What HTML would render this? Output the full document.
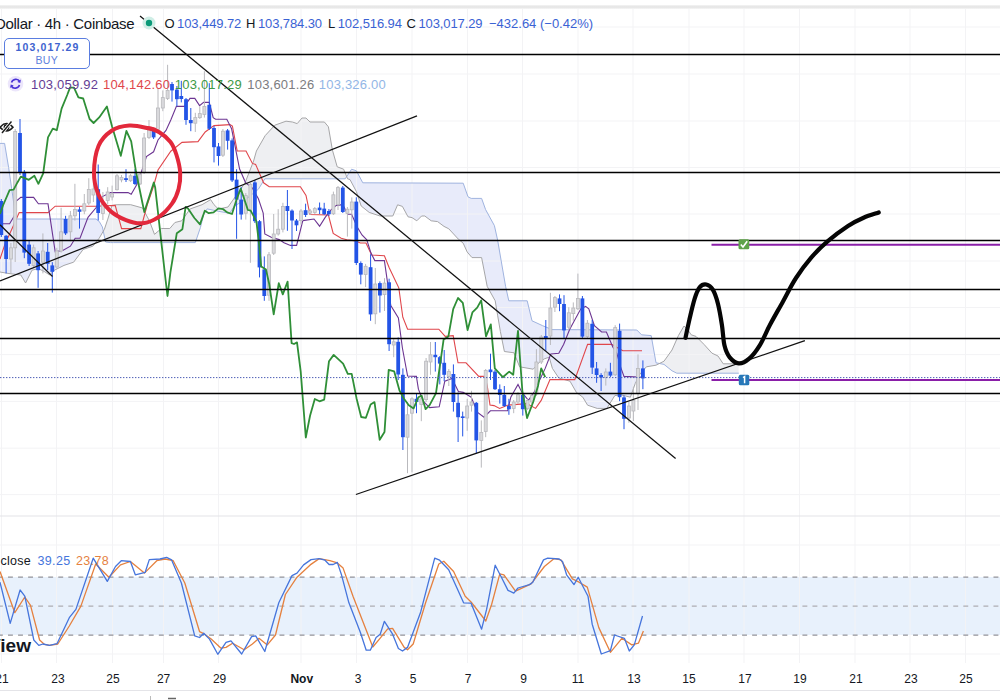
<!DOCTYPE html>
<html><head><meta charset="utf-8">
<style>
html,body{margin:0;padding:0;background:#fff;}
body{width:1000px;height:700px;overflow:hidden;position:relative;font-family:"Liberation Sans",sans-serif;}
svg{position:absolute;left:0;top:0;}
.t{position:absolute;white-space:nowrap;line-height:1;}
.topbar{position:absolute;left:0;top:4.5px;width:1000px;height:4.5px;background:linear-gradient(#f4f4f4,#e3e3e3 50%,#f6f6f6);}
</style></head><body>
<div class="topbar"></div>
<svg width="1000" height="700" viewBox="0 0 1000 700">
<defs>
<clipPath id="cBelowA"><path d="M0.0,143.4 L4.6,143.4 L8.6,167.4 L12.6,195.0 L16.0,219.0 L96.0,219.0 L99.2,221.4 L102.4,227.0 L105.6,242.0 L110.4,242.6 L113.6,242.6 L195.3,242.6 L200.4,227.6 L203.8,214.0 L207.2,208.9 L220.0,211.6 L229.6,213.2 L234.4,206.0 L245.0,200.0 L258.4,189.2 L264.8,178.8 L345.2,178.8 L351.6,169.2 L356.4,170.8 L362.8,182.8 L463.2,183.2 L468.0,196.8 L471.2,198.4 L481.6,198.4 L485.6,209.6 L494.4,225.6 L497.6,240.0 L505.6,286.4 L508.8,300.8 L527.2,300.8 L532.0,320.8 L542.4,325.6 L552.0,329.6 L636.8,330.0 L641.6,334.8 L651.2,335.6 L656.0,362.8 L664.0,364.4 L672.0,370.8 L676.8,373.2 L738.8,373.2 L738.8,600 L0,600 Z"/></clipPath>
<clipPath id="cBelowB"><path d="M0.0,272.0 L8.0,273.4 L20.8,275.0 L25.6,283.0 L32.0,270.2 L38.4,268.6 L44.8,271.8 L49.6,275.0 L54.4,270.2 L64.0,265.4 L73.6,262.2 L83.2,249.4 L92.8,246.2 L99.2,238.2 L104.4,229.3 L107.8,219.1 L112.0,205.5 L117.1,204.7 L130.7,204.7 L142.6,208.0 L149.4,220.8 L154.5,234.4 L161.3,228.5 L169.8,228.5 L174.9,222.5 L181.7,220.8 L190.2,208.9 L202.1,204.7 L210.6,199.6 L214.0,204.7 L218.4,209.0 L228.0,207.0 L245.0,183.0 L253.6,161.0 L256.4,151.0 L265.2,135.6 L274.8,125.2 L286.0,121.2 L292.4,122.0 L297.2,123.6 L302.0,118.0 L306.0,118.0 L310.0,122.0 L324.4,122.0 L328.4,126.8 L332.4,150.0 L337.2,166.8 L343.6,169.2 L347.6,178.8 L350.0,179.6 L356.4,191.6 L361.2,206.0 L369.2,212.4 L380.0,216.0 L392.8,216.0 L397.6,204.8 L402.4,206.4 L408.0,216.8 L412.0,217.6 L416.8,220.8 L421.6,216.0 L424.8,216.0 L431.2,220.8 L437.6,221.6 L444.0,226.4 L448.8,228.8 L458.4,239.2 L463.2,243.2 L467.2,252.0 L472.0,257.6 L481.6,257.6 L487.2,286.4 L495.2,300.8 L497.6,315.2 L500.4,331.6 L504.4,351.5 L514.0,352.8 L519.6,366.8 L533.2,369.2 L539.6,362.0 L544.4,358.8 L549.2,357.2 L552.4,368.4 L558.8,378.0 L570.0,381.2 L576.4,392.4 L582.8,397.2 L587.6,405.2 L597.2,408.4 L606.8,408.4 L614.8,395.6 L620.8,394.8 L630.4,397.2 L635.2,383.6 L640.0,374.0 L646.4,366.8 L656.0,365.2 L664.0,361.2 L672.0,350.0 L678.4,335.6 L684.0,326.0 L688.0,330.0 L691.2,334.8 L696.0,336.4 L704.0,344.4 L712.0,353.2 L718.0,356.0 L723.2,363.8 L738.8,363.8 L738.8,600 L0,600 Z"/></clipPath>
</defs>
<path d="M0.0,272.0 L8.0,273.4 L20.8,275.0 L25.6,283.0 L32.0,270.2 L38.4,268.6 L44.8,271.8 L49.6,275.0 L54.4,270.2 L64.0,265.4 L73.6,262.2 L83.2,249.4 L92.8,246.2 L99.2,238.2 L104.4,229.3 L107.8,219.1 L112.0,205.5 L117.1,204.7 L130.7,204.7 L142.6,208.0 L149.4,220.8 L154.5,234.4 L161.3,228.5 L169.8,228.5 L174.9,222.5 L181.7,220.8 L190.2,208.9 L202.1,204.7 L210.6,199.6 L214.0,204.7 L218.4,209.0 L228.0,207.0 L245.0,183.0 L253.6,161.0 L256.4,151.0 L265.2,135.6 L274.8,125.2 L286.0,121.2 L292.4,122.0 L297.2,123.6 L302.0,118.0 L306.0,118.0 L310.0,122.0 L324.4,122.0 L328.4,126.8 L332.4,150.0 L337.2,166.8 L343.6,169.2 L347.6,178.8 L350.0,179.6 L356.4,191.6 L361.2,206.0 L369.2,212.4 L380.0,216.0 L392.8,216.0 L397.6,204.8 L402.4,206.4 L408.0,216.8 L412.0,217.6 L416.8,220.8 L421.6,216.0 L424.8,216.0 L431.2,220.8 L437.6,221.6 L444.0,226.4 L448.8,228.8 L458.4,239.2 L463.2,243.2 L467.2,252.0 L472.0,257.6 L481.6,257.6 L487.2,286.4 L495.2,300.8 L497.6,315.2 L500.4,331.6 L504.4,351.5 L514.0,352.8 L519.6,366.8 L533.2,369.2 L539.6,362.0 L544.4,358.8 L549.2,357.2 L552.4,368.4 L558.8,378.0 L570.0,381.2 L576.4,392.4 L582.8,397.2 L587.6,405.2 L597.2,408.4 L606.8,408.4 L614.8,395.6 L620.8,394.8 L630.4,397.2 L635.2,383.6 L640.0,374.0 L646.4,366.8 L656.0,365.2 L664.0,361.2 L672.0,350.0 L678.4,335.6 L684.0,326.0 L688.0,330.0 L691.2,334.8 L696.0,336.4 L704.0,344.4 L712.0,353.2 L718.0,356.0 L723.2,363.8 L738.8,363.8 L738.8,0 L0,0 Z" fill="#e8ebfa" clip-path="url(#cBelowA)"/>
<path d="M0.0,143.4 L4.6,143.4 L8.6,167.4 L12.6,195.0 L16.0,219.0 L96.0,219.0 L99.2,221.4 L102.4,227.0 L105.6,242.0 L110.4,242.6 L113.6,242.6 L195.3,242.6 L200.4,227.6 L203.8,214.0 L207.2,208.9 L220.0,211.6 L229.6,213.2 L234.4,206.0 L245.0,200.0 L258.4,189.2 L264.8,178.8 L345.2,178.8 L351.6,169.2 L356.4,170.8 L362.8,182.8 L463.2,183.2 L468.0,196.8 L471.2,198.4 L481.6,198.4 L485.6,209.6 L494.4,225.6 L497.6,240.0 L505.6,286.4 L508.8,300.8 L527.2,300.8 L532.0,320.8 L542.4,325.6 L552.0,329.6 L636.8,330.0 L641.6,334.8 L651.2,335.6 L656.0,362.8 L664.0,364.4 L672.0,370.8 L676.8,373.2 L738.8,373.2 L738.8,0 L0,0 Z" fill="#eeeff2" clip-path="url(#cBelowB)"/>
<rect x="0" y="577" width="1000" height="58" fill="#e8f1fc"/>
<path d="M1.5 9V663 M56.5 9V663 M112.5 9V663 M163.5 9V663 M218.5 9V663 M301.0 9V663 M356.5 9V663 M412.0 9V663 M467.5 9V663 M522.5 9V663 M578.0 9V663 M633.0 9V663 M689.0 9V663 M744.0 9V663 M799.5 9V663 M855.0 9V663 M910.0 9V663 M965.5 9V663 M0 27.0H1000 M0 74.0H1000 M0 121.0H1000 M0 167.5H1000 M0 214.0H1000 M0 261.0H1000 M0 307.5H1000 M0 354.6H1000 M0 401.4H1000 M0 448.2H1000 M0 494.6H1000 M0 545.0H1000 M0 654.0H1000" stroke="#f3f3f5" stroke-width="1" fill="none"/>
<path d="M0 516H1000" stroke="#e4e4e8" stroke-width="1.2" fill="none"/>
<path d="M0 690.5H1000" stroke="#e4e4e8" stroke-width="1" fill="none"/>
<path d="M0.0,143.4 L4.6,143.4 L8.6,167.4 L12.6,195.0 L16.0,219.0 L96.0,219.0 L99.2,221.4 L102.4,227.0 L105.6,242.0 L110.4,242.6 L113.6,242.6 L195.3,242.6 L200.4,227.6 L203.8,214.0 L207.2,208.9 L220.0,211.6 L229.6,213.2 L234.4,206.0 L245.0,200.0 L258.4,189.2 L264.8,178.8 L345.2,178.8 L351.6,169.2 L356.4,170.8 L362.8,182.8 L463.2,183.2 L468.0,196.8 L471.2,198.4 L481.6,198.4 L485.6,209.6 L494.4,225.6 L497.6,240.0 L505.6,286.4 L508.8,300.8 L527.2,300.8 L532.0,320.8 L542.4,325.6 L552.0,329.6 L636.8,330.0 L641.6,334.8 L651.2,335.6 L656.0,362.8 L664.0,364.4 L672.0,370.8 L676.8,373.2 L738.8,373.2" stroke="#9fb3df" stroke-width="1" fill="none"/>
<path d="M0.0,272.0 L8.0,273.4 L20.8,275.0 L25.6,283.0 L32.0,270.2 L38.4,268.6 L44.8,271.8 L49.6,275.0 L54.4,270.2 L64.0,265.4 L73.6,262.2 L83.2,249.4 L92.8,246.2 L99.2,238.2 L104.4,229.3 L107.8,219.1 L112.0,205.5 L117.1,204.7 L130.7,204.7 L142.6,208.0 L149.4,220.8 L154.5,234.4 L161.3,228.5 L169.8,228.5 L174.9,222.5 L181.7,220.8 L190.2,208.9 L202.1,204.7 L210.6,199.6 L214.0,204.7 L218.4,209.0 L228.0,207.0 L245.0,183.0 L253.6,161.0 L256.4,151.0 L265.2,135.6 L274.8,125.2 L286.0,121.2 L292.4,122.0 L297.2,123.6 L302.0,118.0 L306.0,118.0 L310.0,122.0 L324.4,122.0 L328.4,126.8 L332.4,150.0 L337.2,166.8 L343.6,169.2 L347.6,178.8 L350.0,179.6 L356.4,191.6 L361.2,206.0 L369.2,212.4 L380.0,216.0 L392.8,216.0 L397.6,204.8 L402.4,206.4 L408.0,216.8 L412.0,217.6 L416.8,220.8 L421.6,216.0 L424.8,216.0 L431.2,220.8 L437.6,221.6 L444.0,226.4 L448.8,228.8 L458.4,239.2 L463.2,243.2 L467.2,252.0 L472.0,257.6 L481.6,257.6 L487.2,286.4 L495.2,300.8 L497.6,315.2 L500.4,331.6 L504.4,351.5 L514.0,352.8 L519.6,366.8 L533.2,369.2 L539.6,362.0 L544.4,358.8 L549.2,357.2 L552.4,368.4 L558.8,378.0 L570.0,381.2 L576.4,392.4 L582.8,397.2 L587.6,405.2 L597.2,408.4 L606.8,408.4 L614.8,395.6 L620.8,394.8 L630.4,397.2 L635.2,383.6 L640.0,374.0 L646.4,366.8 L656.0,365.2 L664.0,361.2 L672.0,350.0 L678.4,335.6 L684.0,326.0 L688.0,330.0 L691.2,334.8 L696.0,336.4 L704.0,344.4 L712.0,353.2 L718.0,356.0 L723.2,363.8 L738.8,363.8" stroke="#a6a6a8" stroke-width="1" fill="none"/>
<polyline points="0.0,259.0 4.8,244.6 12.8,227.0 19.2,212.6 48.0,212.6 55.2,206.2 96.0,206.2 115.2,205.4 121.6,228.6 140.8,228.6 147.2,205.0 153.6,186.0 158.0,170.0 170.8,151.2 182.0,142.4 198.0,141.6 205.2,132.0 214.0,125.6 230.0,124.6 232.4,126.0 237.2,151.0 246.0,151.0 252.4,163.4 255.6,164.4 263.6,182.8 269.2,186.8 300.4,186.8 306.0,195.4 310.0,214.5 328.4,215.0 333.2,233.4 341.2,238.2 346.8,239.8 354.0,240.6 360.4,243.0 366.0,243.0 371.6,255.0 384.4,255.8 389.2,267.8 398.8,287.8 402.8,317.2 407.6,329.2 438.8,329.2 445.2,336.4 453.2,335.6 458.0,362.8 466.0,362.8 478.8,376.4 485.0,376.4 487.3,386.0 490.0,405.0 494.0,405.6 499.6,408.4 507.6,405.2 517.2,404.4 526.8,403.6 535.6,408.4 541.2,400.4 550.0,379.6 574.8,379.6 587.6,344.4 611.6,344.4 622.8,350.8 642.0,350.8" stroke="#e0464b" stroke-width="1.1" fill="none"/>
<polyline points="0.0,223.8 9.6,223.8 14.4,215.8 16.0,201.4 20.8,197.4 33.6,197.4 38.4,203.8 48.0,203.8 55.2,251.8 63.2,250.2 70.4,246.2 75.2,238.2 80.0,238.2 88.0,217.4 96.0,207.8 102.4,196.6 110.4,192.6 128.0,192.6 131.2,194.2 136.8,184.6 144.8,162.2 146.4,156.6 153.6,151.8 158.0,140.0 166.0,130.4 170.8,120.0 176.4,106.4 184.4,106.4 190.0,98.4 194.8,98.4 199.6,105.6 203.6,102.4 209.2,102.4 213.2,117.6 215.6,119.2 226.8,119.2 231.6,128.8 239.6,169.0 245.6,182.8 252.0,187.6 258.4,198.8 263.2,213.2 264.8,234.0 271.2,237.2 279.2,239.6 284.0,242.8 290.4,245.4 296.6,245.4 302.8,220.6 314.0,219.0 319.6,226.2 325.2,217.4 330.8,210.2 336.4,205.4 342.8,204.6 347.6,214.2 351.6,214.2 357.2,227.0 362.0,235.0 366.8,239.8 370.8,252.6 374.8,260.6 384.4,260.6 390.8,305.6 398.4,318.0 402.4,348.0 407.6,376.0 416.4,376.4 418.4,389.2 423.2,401.2 429.6,407.6 439.2,406.8 444.8,381.2 452.0,378.4 458.4,391.6 463.2,392.4 471.2,397.2 477.6,412.4 484.0,417.2 490.4,410.8 507.6,410.8 510.8,397.2 518.0,384.4 522.0,392.4 528.4,400.4 534.0,392.4 538.0,383.6 545.2,368.4 550.8,354.0 558.8,353.2 563.6,344.4 569.6,329.6 580.8,308.8 585.6,306.4 588.8,308.8 594.4,325.6 601.6,332.0 606.4,332.0 612.8,347.0 616.8,353.2 620.8,367.6 624.0,376.4 643.6,377.2" stroke="#6c3592" stroke-width="1.1" fill="none"/>
<path d="M1.3 199.0V237.0" stroke="#2354e6" stroke-width="1" />
<rect x="-0.60" y="201.0" width="3.8" height="34.0" fill="#2354e6"/>
<path d="M6.1 235.0V273.4" stroke="#2354e6" stroke-width="1" />
<rect x="4.20" y="235.8" width="3.8" height="23.2" fill="#2354e6"/>
<path d="M10.9 243.0V273.4" stroke="#b9b9bd" stroke-width="1" />
<rect x="9.40" y="247.8" width="3.00" height="11.2" fill="#d9d9dc" stroke="#b9b9bd" stroke-width="0.8"/>
<path d="M15.2 129.0V262.0" stroke="#b9b9bd" stroke-width="1" />
<rect x="13.70" y="131.4" width="3.00" height="116.4" fill="#d9d9dc" stroke="#b9b9bd" stroke-width="0.8"/>
<path d="M20.0 119.0V175.0" stroke="#2354e6" stroke-width="1" />
<rect x="18.10" y="133.0" width="3.8" height="39.6" fill="#2354e6"/>
<path d="M24.3 170.0V258.2" stroke="#2354e6" stroke-width="1" />
<rect x="22.40" y="171.8" width="3.8" height="80.8" fill="#2354e6"/>
<path d="M29.1 240.0V266.0" stroke="#2354e6" stroke-width="1" />
<rect x="27.20" y="244.6" width="3.8" height="19.2" fill="#2354e6"/>
<path d="M33.6 244.6V268.0" stroke="#b9b9bd" stroke-width="1" />
<rect x="32.10" y="247.8" width="3.00" height="17.6" fill="#d9d9dc" stroke="#b9b9bd" stroke-width="0.8"/>
<path d="M38.1 251.0V287.8" stroke="#2354e6" stroke-width="1" />
<rect x="36.20" y="253.4" width="3.8" height="16.8" fill="#2354e6"/>
<path d="M42.9 233.4V273.4" stroke="#b9b9bd" stroke-width="1" />
<rect x="41.40" y="251.0" width="3.00" height="11.2" fill="#d9d9dc" stroke="#b9b9bd" stroke-width="0.8"/>
<path d="M47.7 243.0V270.2" stroke="#2354e6" stroke-width="1" />
<rect x="45.80" y="251.8" width="3.8" height="12.0" fill="#2354e6"/>
<path d="M52.3 262.2V292.6" stroke="#2354e6" stroke-width="1" />
<rect x="50.40" y="265.4" width="3.8" height="6.4" fill="#2354e6"/>
<path d="M56.8 247.8V268.6" stroke="#b9b9bd" stroke-width="1" />
<rect x="55.30" y="251.0" width="3.00" height="16.0" fill="#d9d9dc" stroke="#b9b9bd" stroke-width="0.8"/>
<path d="M61.1 207.8V252.6" stroke="#b9b9bd" stroke-width="1" />
<rect x="59.60" y="231.8" width="3.00" height="19.2" fill="#d9d9dc" stroke="#b9b9bd" stroke-width="0.8"/>
<path d="M65.6 215.8V235.0" stroke="#2354e6" stroke-width="1" />
<rect x="63.70" y="219.0" width="3.8" height="14.4" fill="#2354e6"/>
<path d="M70.4 211.0V241.4" stroke="#b9b9bd" stroke-width="1" />
<rect x="68.90" y="215.8" width="3.00" height="16.0" fill="#d9d9dc" stroke="#b9b9bd" stroke-width="0.8"/>
<path d="M74.9 183.8V220.6" stroke="#b9b9bd" stroke-width="1" />
<rect x="73.40" y="209.4" width="3.00" height="6.4" fill="#d9d9dc" stroke="#b9b9bd" stroke-width="0.8"/>
<path d="M79.5 207.0V228.6" stroke="#2354e6" stroke-width="1" />
<rect x="77.60" y="209.4" width="3.8" height="2.4" fill="#2354e6"/>
<path d="M84.3 194.0V214.2" stroke="#b9b9bd" stroke-width="1" />
<rect x="82.80" y="203.8" width="3.00" height="7.2" fill="#d9d9dc" stroke="#b9b9bd" stroke-width="0.8"/>
<path d="M88.8 178.2V205.0" stroke="#b9b9bd" stroke-width="1" />
<rect x="87.30" y="189.4" width="3.00" height="13.6" fill="#d9d9dc" stroke="#b9b9bd" stroke-width="0.8"/>
<path d="M93.4 177.4V202.0" stroke="#b9b9bd" stroke-width="1" />
<rect x="91.90" y="189.0" width="3.00" height="6.0" fill="#d9d9dc" stroke="#b9b9bd" stroke-width="0.8"/>
<path d="M98.2 164.5V220.4" stroke="#2354e6" stroke-width="1" />
<rect x="96.30" y="189.2" width="3.8" height="23.8" fill="#2354e6"/>
<path d="M102.9 192.0V220.0" stroke="#b9b9bd" stroke-width="1" />
<rect x="101.40" y="204.5" width="3.00" height="8.9" fill="#d9d9dc" stroke="#b9b9bd" stroke-width="0.8"/>
<path d="M107.7 187.2V204.5" stroke="#b9b9bd" stroke-width="1" />
<rect x="106.20" y="192.0" width="3.00" height="8.4" fill="#d9d9dc" stroke="#b9b9bd" stroke-width="0.8"/>
<path d="M112.1 185.6V200.4" stroke="#b9b9bd" stroke-width="1" />
<rect x="110.60" y="193.8" width="3.00" height="3.2" fill="#d9d9dc" stroke="#b9b9bd" stroke-width="0.8"/>
<path d="M117.0 174.0V190.5" stroke="#b9b9bd" stroke-width="1" />
<rect x="115.50" y="175.8" width="3.00" height="13.9" fill="#d9d9dc" stroke="#b9b9bd" stroke-width="0.8"/>
<path d="M121.5 175.0V182.3" stroke="#b9b9bd" stroke-width="1" />
<rect x="120.00" y="177.4" width="3.00" height="2.5" fill="#d9d9dc" stroke="#b9b9bd" stroke-width="0.8"/>
<path d="M126.0 169.2V182.0" stroke="#2354e6" stroke-width="1" />
<rect x="124.10" y="178.2" width="3.8" height="1.8" fill="#2354e6"/>
<path d="M130.6 174.0V182.0" stroke="#b9b9bd" stroke-width="1" />
<rect x="129.10" y="175.8" width="3.00" height="4.9" fill="#d9d9dc" stroke="#b9b9bd" stroke-width="0.8"/>
<path d="M135.0 169.2V185.0" stroke="#2354e6" stroke-width="1" />
<rect x="133.10" y="175.8" width="3.8" height="8.2" fill="#2354e6"/>
<path d="M140.0 172.0V185.0" stroke="#b9b9bd" stroke-width="1" />
<rect x="138.50" y="174.2" width="3.00" height="9.8" fill="#d9d9dc" stroke="#b9b9bd" stroke-width="0.8"/>
<path d="M144.1 133.0V174.0" stroke="#b9b9bd" stroke-width="1" />
<rect x="142.60" y="138.0" width="3.00" height="34.5" fill="#d9d9dc" stroke="#b9b9bd" stroke-width="0.8"/>
<path d="M149.0 120.0V139.0" stroke="#b9b9bd" stroke-width="1" />
<rect x="147.50" y="129.0" width="3.00" height="8.4" fill="#d9d9dc" stroke="#b9b9bd" stroke-width="0.8"/>
<path d="M153.6 130.0V139.0" stroke="#2354e6" stroke-width="1" />
<rect x="151.70" y="131.0" width="3.8" height="6.4" fill="#2354e6"/>
<path d="M158.0 88.0V131.0" stroke="#b9b9bd" stroke-width="1" />
<rect x="156.50" y="108.0" width="3.00" height="21.5" fill="#d9d9dc" stroke="#b9b9bd" stroke-width="0.8"/>
<path d="M162.8 90.4V111.2" stroke="#b9b9bd" stroke-width="1" />
<rect x="161.30" y="97.6" width="3.00" height="10.4" fill="#d9d9dc" stroke="#b9b9bd" stroke-width="0.8"/>
<path d="M167.6 64.8V100.0" stroke="#b9b9bd" stroke-width="1" />
<rect x="166.10" y="90.4" width="3.00" height="8.0" fill="#d9d9dc" stroke="#b9b9bd" stroke-width="0.8"/>
<path d="M172.0 82.0V101.6" stroke="#2354e6" stroke-width="1" />
<rect x="170.10" y="84.0" width="3.8" height="6.4" fill="#2354e6"/>
<path d="M176.9 86.0V106.4" stroke="#2354e6" stroke-width="1" />
<rect x="175.00" y="89.6" width="3.8" height="9.6" fill="#2354e6"/>
<path d="M181.3 80.8V102.4" stroke="#2354e6" stroke-width="1" />
<rect x="179.40" y="96.0" width="3.8" height="3.0" fill="#2354e6"/>
<path d="M186.0 98.0V124.8" stroke="#2354e6" stroke-width="1" />
<rect x="184.10" y="99.2" width="3.8" height="20.8" fill="#2354e6"/>
<path d="M190.8 108.0V131.2" stroke="#2354e6" stroke-width="1" />
<rect x="188.90" y="120.0" width="3.8" height="3.2" fill="#2354e6"/>
<path d="M195.3 112.8V132.0" stroke="#b9b9bd" stroke-width="1" />
<rect x="193.80" y="117.6" width="3.00" height="5.6" fill="#d9d9dc" stroke="#b9b9bd" stroke-width="0.8"/>
<path d="M199.8 106.4V119.0" stroke="#b9b9bd" stroke-width="1" />
<rect x="198.30" y="113.6" width="3.00" height="4.0" fill="#d9d9dc" stroke="#b9b9bd" stroke-width="0.8"/>
<path d="M204.4 71.2V117.6" stroke="#b9b9bd" stroke-width="1" />
<rect x="202.90" y="106.4" width="3.00" height="8.0" fill="#d9d9dc" stroke="#b9b9bd" stroke-width="0.8"/>
<path d="M209.3 83.2V130.0" stroke="#2354e6" stroke-width="1" />
<rect x="207.40" y="104.8" width="3.8" height="24.0" fill="#2354e6"/>
<path d="M214.0 126.0V162.4" stroke="#2354e6" stroke-width="1" />
<rect x="212.10" y="128.0" width="3.8" height="19.2" fill="#2354e6"/>
<path d="M218.5 143.0V165.6" stroke="#2354e6" stroke-width="1" />
<rect x="216.60" y="146.4" width="3.8" height="9.6" fill="#2354e6"/>
<path d="M222.9 129.0V157.0" stroke="#b9b9bd" stroke-width="1" />
<rect x="221.40" y="131.2" width="3.00" height="24.0" fill="#d9d9dc" stroke="#b9b9bd" stroke-width="0.8"/>
<path d="M227.6 129.0V149.6" stroke="#2354e6" stroke-width="1" />
<rect x="225.70" y="130.4" width="3.8" height="10.4" fill="#2354e6"/>
<path d="M232.1 138.4V182.0" stroke="#2354e6" stroke-width="1" />
<rect x="230.20" y="140.4" width="3.8" height="40.0" fill="#2354e6"/>
<path d="M236.6 169.2V238.8" stroke="#2354e6" stroke-width="1" />
<rect x="234.70" y="179.6" width="3.8" height="20.0" fill="#2354e6"/>
<path d="M241.2 186.8V219.6" stroke="#2354e6" stroke-width="1" />
<rect x="239.30" y="199.6" width="3.8" height="14.9" fill="#2354e6"/>
<path d="M245.8 193.0V219.6" stroke="#b9b9bd" stroke-width="1" />
<rect x="244.30" y="195.6" width="3.00" height="17.6" fill="#d9d9dc" stroke="#b9b9bd" stroke-width="0.8"/>
<path d="M250.4 183.0V262.8" stroke="#b9b9bd" stroke-width="1" />
<rect x="248.90" y="184.4" width="3.00" height="25.6" fill="#d9d9dc" stroke="#b9b9bd" stroke-width="0.8"/>
<path d="M254.9 180.0V223.0" stroke="#2354e6" stroke-width="1" />
<rect x="253.00" y="182.4" width="3.8" height="38.8" fill="#2354e6"/>
<path d="M259.5 220.0V277.4" stroke="#2354e6" stroke-width="1" />
<rect x="257.60" y="221.2" width="3.8" height="46.2" fill="#2354e6"/>
<path d="M264.3 256.4V300.8" stroke="#2354e6" stroke-width="1" />
<rect x="262.40" y="269.4" width="3.8" height="26.6" fill="#2354e6"/>
<path d="M269.0 252.0V300.8" stroke="#b9b9bd" stroke-width="1" />
<rect x="267.50" y="254.8" width="3.00" height="40.4" fill="#d9d9dc" stroke="#b9b9bd" stroke-width="0.8"/>
<path d="M273.7 214.0V255.0" stroke="#b9b9bd" stroke-width="1" />
<rect x="272.20" y="234.0" width="3.00" height="19.2" fill="#d9d9dc" stroke="#b9b9bd" stroke-width="0.8"/>
<path d="M278.2 209.2V235.6" stroke="#b9b9bd" stroke-width="1" />
<rect x="276.70" y="229.2" width="3.00" height="4.8" fill="#d9d9dc" stroke="#b9b9bd" stroke-width="0.8"/>
<path d="M282.9 202.8V232.4" stroke="#b9b9bd" stroke-width="1" />
<rect x="281.40" y="206.4" width="3.00" height="22.8" fill="#d9d9dc" stroke="#b9b9bd" stroke-width="0.8"/>
<path d="M287.4 190.0V230.8" stroke="#2354e6" stroke-width="1" />
<rect x="285.50" y="206.0" width="3.8" height="5.0" fill="#2354e6"/>
<path d="M292.0 209.4V249.0" stroke="#2354e6" stroke-width="1" />
<rect x="290.10" y="210.6" width="3.8" height="9.9" fill="#2354e6"/>
<path d="M296.5 219.0V231.0" stroke="#2354e6" stroke-width="1" />
<rect x="294.60" y="220.5" width="3.8" height="4.8" fill="#2354e6"/>
<path d="M301.0 209.0V224.6" stroke="#b9b9bd" stroke-width="1" />
<rect x="299.50" y="211.0" width="3.00" height="9.6" fill="#d9d9dc" stroke="#b9b9bd" stroke-width="0.8"/>
<path d="M305.6 203.7V217.0" stroke="#2354e6" stroke-width="1" />
<rect x="303.70" y="210.2" width="3.8" height="4.8" fill="#2354e6"/>
<path d="M310.2 209.0V215.0" stroke="#b9b9bd" stroke-width="1" />
<rect x="308.70" y="211.0" width="3.00" height="2.0" fill="#d9d9dc" stroke="#b9b9bd" stroke-width="0.8"/>
<path d="M314.8 207.0V214.0" stroke="#b9b9bd" stroke-width="1" />
<rect x="313.30" y="208.6" width="3.00" height="3.9" fill="#d9d9dc" stroke="#b9b9bd" stroke-width="0.8"/>
<path d="M319.6 202.5V214.0" stroke="#2354e6" stroke-width="1" />
<rect x="317.70" y="207.6" width="3.8" height="2.6" fill="#2354e6"/>
<path d="M324.2 202.8V215.0" stroke="#2354e6" stroke-width="1" />
<rect x="322.30" y="208.6" width="3.8" height="5.6" fill="#2354e6"/>
<path d="M328.9 209.0V216.0" stroke="#2354e6" stroke-width="1" />
<rect x="327.00" y="211.0" width="3.8" height="3.2" fill="#2354e6"/>
<path d="M333.4 191.6V215.0" stroke="#b9b9bd" stroke-width="1" />
<rect x="331.90" y="194.8" width="3.00" height="19.0" fill="#d9d9dc" stroke="#b9b9bd" stroke-width="0.8"/>
<path d="M338.0 186.0V210.0" stroke="#b9b9bd" stroke-width="1" />
<rect x="336.50" y="187.6" width="3.00" height="17.0" fill="#d9d9dc" stroke="#b9b9bd" stroke-width="0.8"/>
<path d="M342.8 186.0V213.0" stroke="#2354e6" stroke-width="1" />
<rect x="340.90" y="187.6" width="3.8" height="24.4" fill="#2354e6"/>
<path d="M347.4 207.0V236.6" stroke="#b9b9bd" stroke-width="1" />
<rect x="345.90" y="209.2" width="3.00" height="4.0" fill="#d9d9dc" stroke="#b9b9bd" stroke-width="0.8"/>
<path d="M351.8 197.4V228.6" stroke="#b9b9bd" stroke-width="1" />
<rect x="350.30" y="202.0" width="3.00" height="7.8" fill="#d9d9dc" stroke="#b9b9bd" stroke-width="0.8"/>
<path d="M356.3 197.3V265.0" stroke="#2354e6" stroke-width="1" />
<rect x="354.40" y="201.6" width="3.8" height="61.4" fill="#2354e6"/>
<path d="M360.8 261.4V284.3" stroke="#2354e6" stroke-width="1" />
<rect x="358.90" y="263.0" width="3.8" height="11.6" fill="#2354e6"/>
<path d="M365.6 263.9V287.0" stroke="#b9b9bd" stroke-width="1" />
<rect x="364.10" y="266.3" width="3.00" height="8.3" fill="#d9d9dc" stroke="#b9b9bd" stroke-width="0.8"/>
<path d="M370.6 254.2V320.8" stroke="#2354e6" stroke-width="1" />
<rect x="368.70" y="267.2" width="3.8" height="47.2" fill="#2354e6"/>
<path d="M375.3 268.0V324.2" stroke="#b9b9bd" stroke-width="1" />
<rect x="373.80" y="284.0" width="3.00" height="29.8" fill="#d9d9dc" stroke="#b9b9bd" stroke-width="0.8"/>
<path d="M379.9 281.4V312.6" stroke="#2354e6" stroke-width="1" />
<rect x="378.00" y="283.1" width="3.8" height="12.4" fill="#2354e6"/>
<path d="M384.5 278.2V311.0" stroke="#b9b9bd" stroke-width="1" />
<rect x="383.00" y="283.1" width="3.00" height="11.5" fill="#d9d9dc" stroke="#b9b9bd" stroke-width="0.8"/>
<path d="M389.1 278.7V351.0" stroke="#2354e6" stroke-width="1" />
<rect x="387.20" y="282.3" width="3.8" height="61.9" fill="#2354e6"/>
<path d="M393.7 338.0V357.2" stroke="#b9b9bd" stroke-width="1" />
<rect x="392.20" y="341.8" width="3.00" height="3.2" fill="#d9d9dc" stroke="#b9b9bd" stroke-width="0.8"/>
<path d="M398.2 337.4V380.0" stroke="#2354e6" stroke-width="1" />
<rect x="396.30" y="341.8" width="3.8" height="32.7" fill="#2354e6"/>
<path d="M402.9 368.4V450.0" stroke="#2354e6" stroke-width="1" />
<rect x="401.00" y="374.8" width="3.8" height="62.4" fill="#2354e6"/>
<path d="M407.5 402.0V473.2" stroke="#b9b9bd" stroke-width="1" />
<rect x="406.00" y="414.8" width="3.00" height="22.4" fill="#d9d9dc" stroke="#b9b9bd" stroke-width="0.8"/>
<path d="M412.0 397.2V472.4" stroke="#b9b9bd" stroke-width="1" />
<rect x="410.50" y="398.8" width="3.00" height="14.4" fill="#d9d9dc" stroke="#b9b9bd" stroke-width="0.8"/>
<path d="M416.5 394.0V413.2" stroke="#2354e6" stroke-width="1" />
<rect x="414.60" y="398.8" width="3.8" height="3.2" fill="#2354e6"/>
<path d="M421.3 395.6V421.2" stroke="#b9b9bd" stroke-width="1" />
<rect x="419.80" y="398.8" width="3.00" height="5.6" fill="#d9d9dc" stroke="#b9b9bd" stroke-width="0.8"/>
<path d="M426.1 358.0V402.0" stroke="#b9b9bd" stroke-width="1" />
<rect x="424.60" y="361.2" width="3.00" height="38.4" fill="#d9d9dc" stroke="#b9b9bd" stroke-width="0.8"/>
<path d="M430.5 342.0V374.8" stroke="#b9b9bd" stroke-width="1" />
<rect x="429.00" y="354.8" width="3.00" height="7.2" fill="#d9d9dc" stroke="#b9b9bd" stroke-width="0.8"/>
<path d="M435.3 342.0V371.6" stroke="#2354e6" stroke-width="1" />
<rect x="433.40" y="354.8" width="3.8" height="2.4" fill="#2354e6"/>
<path d="M439.8 356.0V384.4" stroke="#2354e6" stroke-width="1" />
<rect x="437.90" y="357.2" width="3.8" height="6.4" fill="#2354e6"/>
<path d="M444.2 350.0V381.2" stroke="#2354e6" stroke-width="1" />
<rect x="442.30" y="362.8" width="3.8" height="12.0" fill="#2354e6"/>
<path d="M448.8 369.0V386.0" stroke="#b9b9bd" stroke-width="1" />
<rect x="447.30" y="371.6" width="3.00" height="4.8" fill="#d9d9dc" stroke="#b9b9bd" stroke-width="0.8"/>
<path d="M453.4 364.4V411.6" stroke="#2354e6" stroke-width="1" />
<rect x="451.50" y="374.0" width="3.8" height="28.0" fill="#2354e6"/>
<path d="M458.1 392.4V442.0" stroke="#2354e6" stroke-width="1" />
<rect x="456.20" y="402.8" width="3.8" height="14.4" fill="#2354e6"/>
<path d="M462.7 411.6V436.4" stroke="#2354e6" stroke-width="1" />
<rect x="460.80" y="416.4" width="3.8" height="1.6" fill="#2354e6"/>
<path d="M467.2 398.8V430.8" stroke="#b9b9bd" stroke-width="1" />
<rect x="465.70" y="406.0" width="3.00" height="12.0" fill="#d9d9dc" stroke="#b9b9bd" stroke-width="0.8"/>
<path d="M471.5 390.8V411.6" stroke="#b9b9bd" stroke-width="1" />
<rect x="470.00" y="402.0" width="3.00" height="3.2" fill="#d9d9dc" stroke="#b9b9bd" stroke-width="0.8"/>
<path d="M476.3 402.0V453.2" stroke="#2354e6" stroke-width="1" />
<rect x="474.40" y="402.8" width="3.8" height="37.6" fill="#2354e6"/>
<path d="M481.3 420.4V467.6" stroke="#b9b9bd" stroke-width="1" />
<rect x="479.80" y="432.4" width="3.00" height="8.0" fill="#d9d9dc" stroke="#b9b9bd" stroke-width="0.8"/>
<path d="M485.7 369.0V437.2" stroke="#b9b9bd" stroke-width="1" />
<rect x="484.20" y="370.5" width="3.00" height="61.0" fill="#d9d9dc" stroke="#b9b9bd" stroke-width="0.8"/>
<path d="M490.5 353.7V380.0" stroke="#2354e6" stroke-width="1" />
<rect x="488.60" y="369.5" width="3.8" height="2.7" fill="#2354e6"/>
<path d="M495.0 370.0V390.0" stroke="#2354e6" stroke-width="1" />
<rect x="493.10" y="371.6" width="3.8" height="17.6" fill="#2354e6"/>
<path d="M499.8 384.4V403.6" stroke="#2354e6" stroke-width="1" />
<rect x="497.90" y="389.2" width="3.8" height="5.8" fill="#2354e6"/>
<path d="M504.3 386.0V407.0" stroke="#2354e6" stroke-width="1" />
<rect x="502.40" y="394.8" width="3.8" height="11.2" fill="#2354e6"/>
<path d="M508.9 398.8V414.8" stroke="#2354e6" stroke-width="1" />
<rect x="507.00" y="406.0" width="3.8" height="3.2" fill="#2354e6"/>
<path d="M513.7 400.0V413.2" stroke="#b9b9bd" stroke-width="1" />
<rect x="512.20" y="402.0" width="3.00" height="6.4" fill="#d9d9dc" stroke="#b9b9bd" stroke-width="0.8"/>
<path d="M518.0 392.0V404.0" stroke="#b9b9bd" stroke-width="1" />
<rect x="516.50" y="394.8" width="3.00" height="7.2" fill="#d9d9dc" stroke="#b9b9bd" stroke-width="0.8"/>
<path d="M522.8 393.0V415.6" stroke="#2354e6" stroke-width="1" />
<rect x="520.90" y="394.8" width="3.8" height="14.4" fill="#2354e6"/>
<path d="M527.6 399.0V410.0" stroke="#b9b9bd" stroke-width="1" />
<rect x="526.10" y="400.4" width="3.00" height="8.0" fill="#d9d9dc" stroke="#b9b9bd" stroke-width="0.8"/>
<path d="M531.9 394.0V404.0" stroke="#b9b9bd" stroke-width="1" />
<rect x="530.40" y="395.6" width="3.00" height="6.4" fill="#d9d9dc" stroke="#b9b9bd" stroke-width="0.8"/>
<path d="M536.4 349.2V396.0" stroke="#b9b9bd" stroke-width="1" />
<rect x="534.90" y="362.0" width="3.00" height="32.0" fill="#d9d9dc" stroke="#b9b9bd" stroke-width="0.8"/>
<path d="M541.3 335.0V364.0" stroke="#b9b9bd" stroke-width="1" />
<rect x="539.80" y="337.0" width="3.00" height="25.0" fill="#d9d9dc" stroke="#b9b9bd" stroke-width="0.8"/>
<path d="M545.8 320.0V350.8" stroke="#2354e6" stroke-width="1" />
<rect x="543.90" y="336.0" width="3.8" height="2.4" fill="#2354e6"/>
<path d="M550.4 292.8V345.0" stroke="#b9b9bd" stroke-width="1" />
<rect x="548.90" y="308.0" width="3.00" height="28.0" fill="#d9d9dc" stroke="#b9b9bd" stroke-width="0.8"/>
<path d="M554.9 296.0V312.0" stroke="#b9b9bd" stroke-width="1" />
<rect x="553.40" y="297.6" width="3.00" height="9.6" fill="#d9d9dc" stroke="#b9b9bd" stroke-width="0.8"/>
<path d="M559.5 294.4V311.2" stroke="#2354e6" stroke-width="1" />
<rect x="557.60" y="298.4" width="3.8" height="5.6" fill="#2354e6"/>
<path d="M564.0 295.2V338.0" stroke="#2354e6" stroke-width="1" />
<rect x="562.10" y="304.0" width="3.8" height="26.4" fill="#2354e6"/>
<path d="M568.8 307.2V330.0" stroke="#b9b9bd" stroke-width="1" />
<rect x="567.30" y="312.8" width="3.00" height="14.4" fill="#d9d9dc" stroke="#b9b9bd" stroke-width="0.8"/>
<path d="M573.3 302.4V320.8" stroke="#b9b9bd" stroke-width="1" />
<rect x="571.80" y="308.0" width="3.00" height="5.6" fill="#d9d9dc" stroke="#b9b9bd" stroke-width="0.8"/>
<path d="M577.9 273.6V310.0" stroke="#b9b9bd" stroke-width="1" />
<rect x="576.40" y="298.4" width="3.00" height="10.4" fill="#d9d9dc" stroke="#b9b9bd" stroke-width="0.8"/>
<path d="M582.4 296.0V338.0" stroke="#2354e6" stroke-width="1" />
<rect x="580.50" y="298.4" width="3.8" height="38.2" fill="#2354e6"/>
<path d="M587.4 320.0V338.0" stroke="#b9b9bd" stroke-width="1" />
<rect x="585.90" y="323.2" width="3.00" height="13.4" fill="#d9d9dc" stroke="#b9b9bd" stroke-width="0.8"/>
<path d="M592.2 320.0V374.0" stroke="#2354e6" stroke-width="1" />
<rect x="590.30" y="323.8" width="3.8" height="43.8" fill="#2354e6"/>
<path d="M596.6 362.0V382.8" stroke="#2354e6" stroke-width="1" />
<rect x="594.70" y="368.4" width="3.8" height="6.6" fill="#2354e6"/>
<path d="M601.1 373.2V391.0" stroke="#2354e6" stroke-width="1" />
<rect x="599.20" y="375.0" width="3.8" height="2.5" fill="#2354e6"/>
<path d="M605.8 368.4V385.6" stroke="#b9b9bd" stroke-width="1" />
<rect x="604.30" y="372.0" width="3.00" height="5.5" fill="#d9d9dc" stroke="#b9b9bd" stroke-width="0.8"/>
<path d="M610.4 362.8V377.0" stroke="#2354e6" stroke-width="1" />
<rect x="608.50" y="371.6" width="3.8" height="4.0" fill="#2354e6"/>
<path d="M615.2 325.2V376.0" stroke="#b9b9bd" stroke-width="1" />
<rect x="613.70" y="327.6" width="3.00" height="47.2" fill="#d9d9dc" stroke="#b9b9bd" stroke-width="0.8"/>
<path d="M619.6 323.6V401.2" stroke="#2354e6" stroke-width="1" />
<rect x="617.70" y="330.8" width="3.8" height="66.4" fill="#2354e6"/>
<path d="M624.0 395.6V429.2" stroke="#2354e6" stroke-width="1" />
<rect x="622.10" y="397.4" width="3.8" height="21.4" fill="#2354e6"/>
<path d="M628.9 402.0V422.8" stroke="#b9b9bd" stroke-width="1" />
<rect x="627.40" y="406.0" width="3.00" height="12.0" fill="#d9d9dc" stroke="#b9b9bd" stroke-width="0.8"/>
<path d="M633.4 386.8V421.0" stroke="#b9b9bd" stroke-width="1" />
<rect x="631.90" y="400.4" width="3.00" height="10.6" fill="#d9d9dc" stroke="#b9b9bd" stroke-width="0.8"/>
<path d="M638.0 354.4V410.0" stroke="#b9b9bd" stroke-width="1" />
<rect x="636.50" y="368.4" width="3.00" height="25.2" fill="#d9d9dc" stroke="#b9b9bd" stroke-width="0.8"/>
<path d="M642.9 360.4V389.2" stroke="#2354e6" stroke-width="1" />
<rect x="641.00" y="368.4" width="3.8" height="10.0" fill="#2354e6"/>
<polyline points="0.0,214.0 3.2,205.0 9.6,190.2 13.6,189.7 17.6,182.2 20.8,176.6 24.8,178.2 28.8,179.8 34.4,175.8 38.4,183.8 43.2,173.4 48.0,137.4 52.8,128.6 56.8,130.2 61.6,108.6 67.2,95.0 70.0,87.6 74.0,87.6 78.4,97.4 83.2,98.5 89.6,119.0 93.6,123.0 99.2,117.4 106.9,106.5 112.0,126.2 120.8,155.8 126.4,131.0 131.2,141.4 136.0,171.8 144.3,212.0 153.8,182.5 155.2,187.6 165.6,280.0 167.5,296.0 170.4,272.4 176.8,233.2 182.4,229.2 185.6,206.8 188.0,208.4 194.4,218.0 200.0,224.4 204.8,210.8 208.8,213.2 213.6,212.4 218.4,208.4 223.2,209.2 227.2,212.4 232.0,214.0 236.4,200.0 240.7,188.6 242.9,195.0 247.9,210.0 250.7,210.7 256.4,221.4 258.6,240.0 261.2,266.4 266.0,269.6 269.2,284.0 273.7,314.4 278.8,283.2 282.8,294.4 287.6,281.6 291.6,343.2 294.0,344.0 297.0,342.4 300.7,371.4 305.8,437.5 310.1,415.5 314.8,399.0 319.5,401.3 324.2,399.7 329.0,361.2 333.7,354.9 343.1,363.6 347.8,373.8 351.7,373.8 356.5,398.2 361.2,417.0 365.9,417.8 370.6,404.5 374.5,402.1 379.7,439.8 384.5,432.0 388.7,369.9 394.2,371.4 399.5,390.5 404.0,398.8 408.8,405.2 413.6,408.4 418.4,397.2 421.6,395.6 425.6,409.2 429.6,405.2 436.0,393.2 443.6,339.6 448.4,336.4 453.2,309.2 458.0,298.0 462.8,302.8 467.6,330.0 472.4,312.4 477.2,307.6 481.2,300.4 486.0,336.4 490.8,324.4 494.8,368.4 502.8,377.2 509.2,371.6 513.2,374.8 518.0,330.8 522.4,391.5 527.1,418.0 533.2,402.0 538.0,386.0 541.2,368.4 545.2,377.2" stroke="#2f8f37" stroke-width="1.8" fill="none" stroke-linejoin="round"/>
<path d="M0 377.6H1000" stroke="#4d5db5" stroke-width="1" stroke-dasharray="1.4 1.6" fill="none"/>
<path d="M0 54.5H1000" stroke="#000" stroke-width="1.5" fill="none"/>
<path d="M0 172.5H1000" stroke="#000" stroke-width="1.5" fill="none"/>
<path d="M0 240.5H1000" stroke="#000" stroke-width="1.5" fill="none"/>
<path d="M0 289.5H1000" stroke="#000" stroke-width="1.5" fill="none"/>
<path d="M0 338.5H1000" stroke="#000" stroke-width="1.5" fill="none"/>
<path d="M0 393.5H1000" stroke="#000" stroke-width="1.5" fill="none"/>
<path d="M711.5 244.8H1000" stroke="#8a1fa8" stroke-width="2" fill="none"/>
<path d="M711.5 380H1000" stroke="#8a1fa8" stroke-width="2" fill="none"/>
<path d="M140 16L675.6 458.5" stroke="#111" stroke-width="1.25" fill="none"/>
<path d="M355.9 494.5L804.9 340.7" stroke="#111" stroke-width="1.25" fill="none"/>
<path d="M0 281L417 115.8" stroke="#111" stroke-width="1.25" fill="none"/>
<path d="M0 224.8L52.5 276.5" stroke="#111" stroke-width="1.25" fill="none"/>
<path d="M148,128.3 C153.0,129.4 155.6,130.0 159.3,132.3 C163.1,134.6 167.6,138.2 170.5,142 C173.4,145.8 174.9,149.9 176.5,155 C178.1,160.1 179.8,166.8 180.2,172.5 C180.5,178.2 180.0,183.8 178.6,189 C177.2,194.2 175.3,199.1 172,203.7 C168.7,208.3 163.8,213.6 158.9,216.8 C154.0,220.1 148.0,222.6 142.5,223.2 C137.0,223.8 131.5,222.3 126,220.1 C120.5,217.9 114.2,214.6 109.6,210.2 C104.9,205.8 100.7,200.1 98.1,193.8 C95.5,187.5 93.9,180.5 94,172.5 C94.1,164.5 95.6,152.9 98.5,146 C101.4,139.1 106.2,134.4 111.3,131 C116.4,127.6 123.2,126.0 129.3,125.6 C135.4,125.1 143.0,127.2 148,128.3" stroke="#e2283b" stroke-width="4" fill="none" stroke-linecap="round"/>
<path d="M146,127.5 Q151,127.6 155,129.2" stroke="#e2283b" stroke-width="3" fill="none" stroke-linecap="round"/>
<path d="M685.5,337.8 C686.1,334.8 687.9,326.1 689.4,319.6 C690.9,313.1 692.9,304.2 694.6,298.8 C696.3,293.4 697.8,289.5 699.8,287.1 C701.8,284.7 704.1,284.1 706.3,284.5 C708.5,284.9 710.8,286.4 712.8,289.7 C714.8,292.9 716.5,298.1 718,304 C719.5,309.9 720.8,317.9 721.9,324.8 C723.0,331.7 723.2,340.2 724.5,345.6 C725.8,351.0 727.3,354.4 729.7,357.3 C732.1,360.2 735.5,363.1 738.8,363.3 C742.0,363.5 745.7,361.6 749.2,358.6 C752.7,355.7 756.1,351.2 759.6,345.6 C763.1,340.0 766.1,332.2 770,324.8 C773.9,317.4 778.7,309.2 783,301.4 C787.3,293.6 791.2,285.4 796,278 C800.8,270.6 806.4,263.3 811.6,257.2 C816.8,251.1 821.1,246.8 827.2,241.6 C833.3,236.4 841.9,230.0 848,226 C854.1,222.0 858.5,219.9 863.6,217.7 C868.7,215.4 876.2,213.4 878.7,212.5" stroke="#050505" stroke-width="4.2" fill="none" stroke-linecap="round" stroke-linejoin="round"/>
<rect x="738.5" y="239.2" width="10.8" height="10" rx="1.5" fill="#5ea34a"/>
<path d="M740.8 244.5L743 247L747.2 241.3" stroke="#fff" stroke-width="1.6" fill="none"/>
<rect x="738.8" y="374.8" width="10.5" height="10.5" rx="1.5" fill="#2677b8"/>
<path d="M743 377.6L744.6 376.6V383.3" stroke="#fff" stroke-width="1.5" fill="none"/>
<path d="M0 577H1000" stroke="#939399" stroke-width="1.25" stroke-dasharray="4.9 5.156" stroke-dashoffset="2.06" fill="none"/>
<path d="M0 606H1000" stroke="#adadb2" stroke-width="1.25" stroke-dasharray="4.9 5.156" stroke-dashoffset="2.06" fill="none"/>
<path d="M0 635H1000" stroke="#939399" stroke-width="1.25" stroke-dasharray="4.9 5.156" stroke-dashoffset="2.06" fill="none"/>
<polyline points="0.0,571.5 14.8,612.7 24.8,597.0 30.5,605.3 39.6,640.0 44.5,644.4 49.5,645.4 57.8,644.0 69.3,626.0 80.9,606.1 95.7,564.0 108.9,577.2 120.5,564.9 130.4,561.5 144.4,573.1 156.8,560.7 165.0,559.0 173.2,560.7 184.8,583.0 199.6,631.7 204.6,634.2 211.2,639.1 221.0,648.2 226.0,647.4 232.6,643.2 244.2,649.8 252.4,644.0 259.0,638.3 267.3,644.9 275.5,635.0 285.4,594.5 297.0,577.2 310.2,564.9 319.2,558.6 329.9,560.7 337.3,562.9 343.1,568.1 353.0,596.2 372.8,647.0 379.4,639.1 387.7,628.9 392.6,628.4 404.2,647.4 407.5,649.8 413.2,644.0 425.6,602.8 438.8,564.0 443.8,561.2 453.6,571.5 465.2,596.2 471.8,602.8 480.0,613.5 485.8,621.0 491.6,604.5 499.8,573.9 503.9,574.8 515.5,591.2 531.1,583.8 544.4,566.5 554.2,558.6 560.9,559.9 572.4,578.9 579.0,582.2 587.3,587.1 598.8,627.6 610.4,652.3 621.9,638.3 631.8,644.9 638.4,643.2 643.4,630.9" stroke="#e5813f" stroke-width="1.3" fill="none" stroke-linejoin="round"/>
<polyline points="0.0,582.2 10.2,623.4 20.1,590.0 24.8,596.2 33.8,640.0 38.8,645.4 42.9,644.0 49.5,645.4 57.0,643.7 69.3,617.7 75.9,609.4 93.2,558.2 107.3,581.4 115.5,566.5 121.3,560.7 130.4,561.5 135.3,574.8 145.2,572.3 149.3,559.6 160.0,559.0 166.6,557.4 171.6,559.9 181.4,583.0 194.7,635.8 199.6,637.5 203.7,633.3 209.5,639.1 217.8,654.3 226.0,642.4 231.0,640.8 241.7,654.0 251.6,636.6 255.7,635.8 264.8,651.5 278.8,602.8 292.0,575.6 297.0,573.1 303.6,564.9 311.0,559.6 319.2,558.6 325.0,560.2 329.1,564.5 333.2,564.5 337.3,562.4 341.5,574.8 348.9,602.8 360.4,632.5 366.2,650.2 370.3,650.2 376.1,637.5 380.2,634.2 384.4,621.3 392.6,634.2 398.4,648.5 402.5,651.0 407.5,647.4 420.7,611.9 434.7,558.2 439.6,560.2 448.7,569.8 463.6,602.8 471.0,603.1 481.6,629.2 486.6,609.4 495.2,565.2 501.4,577.2 508.0,590.4 513.8,593.2 518.0,588.0 529.5,584.6 532.8,582.2 543.5,559.9 547.7,558.2 559.2,559.0 562.5,561.5 566.6,574.8 574.0,584.6 578.2,577.2 588.0,596.2 592.2,624.2 601.3,654.0 610.4,650.7 614.5,635.0 624.4,638.3 629.3,651.0 634.3,644.9 642.5,616.0" stroke="#4675dc" stroke-width="1.3" fill="none" stroke-linejoin="round"/>
<path d="M150.5 696V700" stroke="#bbb" stroke-width="1"/>
<path d="M168 698.5H176" stroke="#666" stroke-width="1.5"/>
<circle cx="149" cy="23" r="6.5" fill="#cfeee6"/>
<circle cx="149" cy="23" r="3.2" fill="#0a9a78"/>
<circle cx="15.5" cy="83.7" r="7.8" fill="#ece6fb"/>
<path d="M11.5 82.5 A4.6 4.6 0 0 1 19.8 81.5 M19.5 85 A4.6 4.6 0 0 1 11.2 86" stroke="#4b34d6" stroke-width="1.6" fill="none"/>
<path d="M20.8 79.5 L20.3 83 L17.3 82 Z M10.2 88 L10.7 84.5 L13.7 85.5Z" fill="#4b34d6"/>
<path d="M0 127.3 Q6.5 119.8 13 127.3 Q6.5 134.8 0 127.3 Z" stroke="#1a1a1a" stroke-width="1.5" fill="none"/>
<circle cx="6.5" cy="127.3" r="2.3" stroke="#1a1a1a" stroke-width="1.3" fill="none"/>
<path d="M2 133 L11.5 121.5" stroke="#fff" stroke-width="3"/>
<path d="M2 133 L11.5 121.5" stroke="#1a1a1a" stroke-width="1.4"/>
</svg>
<div class="t" style="left:-5px;top:16px;font-size:15px;letter-spacing:-0.3px;color:#131722;">Dollar · 4h · Coinbase</div>
<div class="t" style="left:164.5px;top:17px;font-size:13px;letter-spacing:-0.1px;color:#131722;">O<span style="color:#3a62d4;margin-left:2.6px">103,449.72</span></div>
<div class="t" style="left:246px;top:17px;font-size:13px;letter-spacing:-0.1px;color:#131722;">H<span style="color:#3a62d4;margin-left:2.6px">103,784.30</span></div>
<div class="t" style="left:328px;top:17px;font-size:13px;letter-spacing:-0.1px;color:#131722;">L<span style="color:#3a62d4;margin-left:2.6px">102,516.94</span></div>
<div class="t" style="left:406.5px;top:17px;font-size:13px;letter-spacing:-0.1px;color:#131722;">C<span style="color:#3a62d4;margin-left:2.6px">103,017.29</span></div>
<div class="t" style="left:489px;top:17px;font-size:13px;color:#3a62d4;">−432.64 (−0.42%)</div>
<div style="position:absolute;left:3.8px;top:38.3px;width:84.5px;height:28.5px;border:1.2px solid #5a7de0;border-radius:5px;background:#fff;"></div>
<div class="t" style="left:15.5px;top:42px;font-size:10.5px;font-weight:bold;letter-spacing:1.15px;color:#3e63cf;">103,017.29</div>
<div class="t" style="left:35.5px;top:55px;font-size:10.5px;letter-spacing:0.3px;color:#5d80dd;">BUY</div>
<div class="t" style="left:31px;top:77.5px;font-size:13px;letter-spacing:0.2px;color:#643c94;">103,059.92</div>
<div class="t" style="left:103px;top:77.5px;font-size:13px;letter-spacing:0.2px;color:#e0474d;">104,142.60</div>
<div class="t" style="left:174.8px;top:77.5px;font-size:13px;letter-spacing:0.2px;color:#3e9a45;">103,017.29</div>
<div class="t" style="left:247.3px;top:77.5px;font-size:13px;letter-spacing:0.2px;color:#7c7c80;">103,601.26</div>
<div class="t" style="left:318.8px;top:77.5px;font-size:13px;letter-spacing:0.2px;color:#92b6e6;">103,326.00</div>
<div class="t" style="left:0.5px;top:555px;font-size:12.5px;letter-spacing:0.25px;color:#131722;">close</div>
<div class="t" style="left:37.5px;top:555px;font-size:12.5px;letter-spacing:0.35px;color:#4675dc;">39.25</div>
<div class="t" style="left:76px;top:555px;font-size:12.5px;letter-spacing:0.35px;color:#e5813f;">23.78</div>
<div class="t" style="left:-12px;top:636px;font-size:19px;font-weight:bold;color:#131722;">View</div>
<div class="t" style="left:-28px;width:60px;text-align:center;top:673px;font-size:12px;font-weight:normal;color:#131722;">21</div>
<div class="t" style="left:28px;width:60px;text-align:center;top:673px;font-size:12px;font-weight:normal;color:#131722;">23</div>
<div class="t" style="left:83px;width:60px;text-align:center;top:673px;font-size:12px;font-weight:normal;color:#131722;">25</div>
<div class="t" style="left:133.6px;width:60px;text-align:center;top:673px;font-size:12px;font-weight:normal;color:#131722;">27</div>
<div class="t" style="left:189.6px;width:60px;text-align:center;top:673px;font-size:12px;font-weight:normal;color:#131722;">29</div>
<div class="t" style="left:271.8px;width:60px;text-align:center;top:673px;font-size:12px;font-weight:bold;color:#131722;">Nov</div>
<div class="t" style="left:328px;width:60px;text-align:center;top:673px;font-size:12px;font-weight:normal;color:#131722;">3</div>
<div class="t" style="left:383px;width:60px;text-align:center;top:673px;font-size:12px;font-weight:normal;color:#131722;">5</div>
<div class="t" style="left:438px;width:60px;text-align:center;top:673px;font-size:12px;font-weight:normal;color:#131722;">7</div>
<div class="t" style="left:493.5px;width:60px;text-align:center;top:673px;font-size:12px;font-weight:normal;color:#131722;">9</div>
<div class="t" style="left:548px;width:60px;text-align:center;top:673px;font-size:12px;font-weight:normal;color:#131722;">11</div>
<div class="t" style="left:604px;width:60px;text-align:center;top:673px;font-size:12px;font-weight:normal;color:#131722;">13</div>
<div class="t" style="left:659px;width:60px;text-align:center;top:673px;font-size:12px;font-weight:normal;color:#131722;">15</div>
<div class="t" style="left:715px;width:60px;text-align:center;top:673px;font-size:12px;font-weight:normal;color:#131722;">17</div>
<div class="t" style="left:770px;width:60px;text-align:center;top:673px;font-size:12px;font-weight:normal;color:#131722;">19</div>
<div class="t" style="left:826px;width:60px;text-align:center;top:673px;font-size:12px;font-weight:normal;color:#131722;">21</div>
<div class="t" style="left:881px;width:60px;text-align:center;top:673px;font-size:12px;font-weight:normal;color:#131722;">23</div>
<div class="t" style="left:936px;width:60px;text-align:center;top:673px;font-size:12px;font-weight:normal;color:#131722;">25</div>
</body></html>
